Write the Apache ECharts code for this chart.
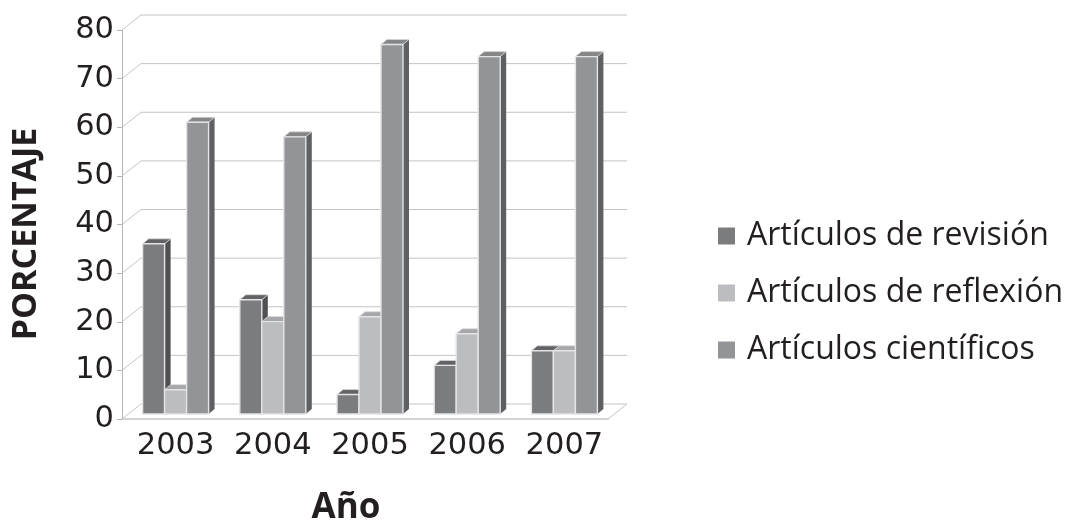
<!DOCTYPE html>
<html>
<head>
<meta charset="utf-8">
<script src="https://cdn.jsdelivr.net/npm/echarts@6/dist/echarts.min.js"></script>
<style>
  html, body { margin: 0; padding: 0; background: #fff; }
  #main { width: 1066px; height: 521px; }
</style>
</head>
<body>
<div id="main"></div>
<script>
const years = ['2003', '2004', '2005', '2006', '2007']
const revision = [35, 23.5, 4, 10, 13]
const reflexion = [5, 19, 20, 16.5, 13]
const cientificos = [60, 57, 76, 73.5, 73.5]
const wallTicks = [0, 10, 20, 30, 40, 50, 60, 70, 80]

const FONT = '"Open Sans"'
const DIGITS = '"DejaVu Sans"'
const TEXT = '#231f20'

// fake 3d: how far the bars and the back wall sit behind the front plane
const BAR_SHIFT = [5, -5]
const SIDE = [6, -5]
const WALL = [19, -15]

const makeBar = (slot, front, side, top) => (params, api) => {
  const base = api.coord([api.value(0), 0])
  const head = api.coord([api.value(0), api.value(1)])
  const w = api.size([1, 0])[0] * 0.2263
  const x0 = base[0] + BAR_SHIFT[0] + (slot - 1.5) * w
  const x1 = x0 + w
  const y0 = base[1] + BAR_SHIFT[1]
  const y1 = head[1] + BAR_SHIFT[1]
  return {
    type: 'group',
    children: [
      { type: 'polygon', shape: { points: [[x1, y0], [x1 + SIDE[0], y0 + SIDE[1]], [x1 + SIDE[0], y1 + SIDE[1]], [x1, y1]] }, style: { fill: side } },
      { type: 'polygon', shape: { points: [[x0, y1], [x0 + SIDE[0], y1 + SIDE[1]], [x1 + SIDE[0], y1 + SIDE[1]], [x1, y1]] }, style: { fill: top, stroke: '#d8d8d8', lineWidth: 0.8 } },
      { type: 'rect', shape: { x: x0, y: y1, width: w, height: y0 - y1 }, style: { fill: front, stroke: '#e4e4e6', lineWidth: 1.4 } }
    ]
  }
}

const barSeries = (name, values, slot, front, side, top) => ({
  name: name,
  type: 'custom',
  z: 5,
  itemStyle: { color: front },
  encode: { x: 0, y: 1 },
  data: values.map((v, i) => [i, v]),
  renderItem: makeBar(slot, front, side, top)
})

const chart = echarts.init(document.getElementById('main'))
chart.setOption({
  animation: false,
  grid: { left: 122, top: 30, width: 486, height: 389 },
  legend: {
    orient: 'vertical',
    left: 713,
    top: 215,
    itemWidth: 17,
    itemHeight: 17,
    itemGap: 25,
    icon: 'rect',
    data: ['Artículos de revisión', 'Artículos de reflexión', 'Artículos científicos'],
    textStyle: { fontFamily: FONT, fontSize: 32, color: TEXT, padding: [0, 0, 0, 7] }
  },
  xAxis: {
    type: 'category',
    data: years,
    axisTick: { show: false },
    axisLine: { lineStyle: { color: '#d2d2d2', width: 2 } },
    axisLabel: { interval: 0, fontFamily: DIGITS, fontSize: 30.5, color: TEXT, margin: 12, padding: [0, 0, 0, 10] }
  },
  yAxis: {
    type: 'value',
    min: 0,
    max: 80,
    interval: 10,
    splitLine: { show: false },
    axisLine: { show: true, lineStyle: { color: '#b5b5b5', width: 1 } },
    axisTick: { show: true, length: 5, lineStyle: { color: '#b5b5b5' } },
    axisLabel: { fontFamily: DIGITS, fontSize: 30.5, color: TEXT, margin: 8 }
  },
  graphic: [
    { type: 'text', x: 26, y: 234, rotation: Math.PI / 2, style: { text: 'PORCENTAJE', fontFamily: FONT, fontWeight: 'bold', fontSize: 34, fill: TEXT, textAlign: 'center', textVerticalAlign: 'middle' } },
    { type: 'text', x: 346, y: 508, style: { text: 'Año', fontFamily: FONT, fontWeight: 'bold', fontSize: 35, fill: TEXT, textAlign: 'center', textVerticalAlign: 'middle' } }
  ],
  series: [
    {
      type: 'custom',
      silent: true,
      z: 1,
      data: wallTicks.map((v) => [0, v]),
      encode: { y: 1 },
      renderItem: (params, api) => {
        const cs = params.coordSys
        const y = api.coord([0, api.value(1)])[1]
        const points = [[cs.x, y], [cs.x + WALL[0], y + WALL[1]], [cs.x + cs.width + WALL[0], y + WALL[1]]]
        if (api.value(1) === 0) points.push([cs.x + cs.width, y])
        return { type: 'polyline', shape: { points: points }, style: { fill: null, stroke: '#c4c4c4', lineWidth: 1 } }
      }
    },
    barSeries('Artículos de revisión', revision, 0, '#7b7c7e', '#505052', '#636365'),
    barSeries('Artículos de reflexión', reflexion, 1, '#bcbdc0', '#77787a', '#a6a7aa'),
    barSeries('Artículos científicos', cientificos, 2, '#939497', '#5f6062', '#858688')
  ]
})
</script>
</body>
</html>
